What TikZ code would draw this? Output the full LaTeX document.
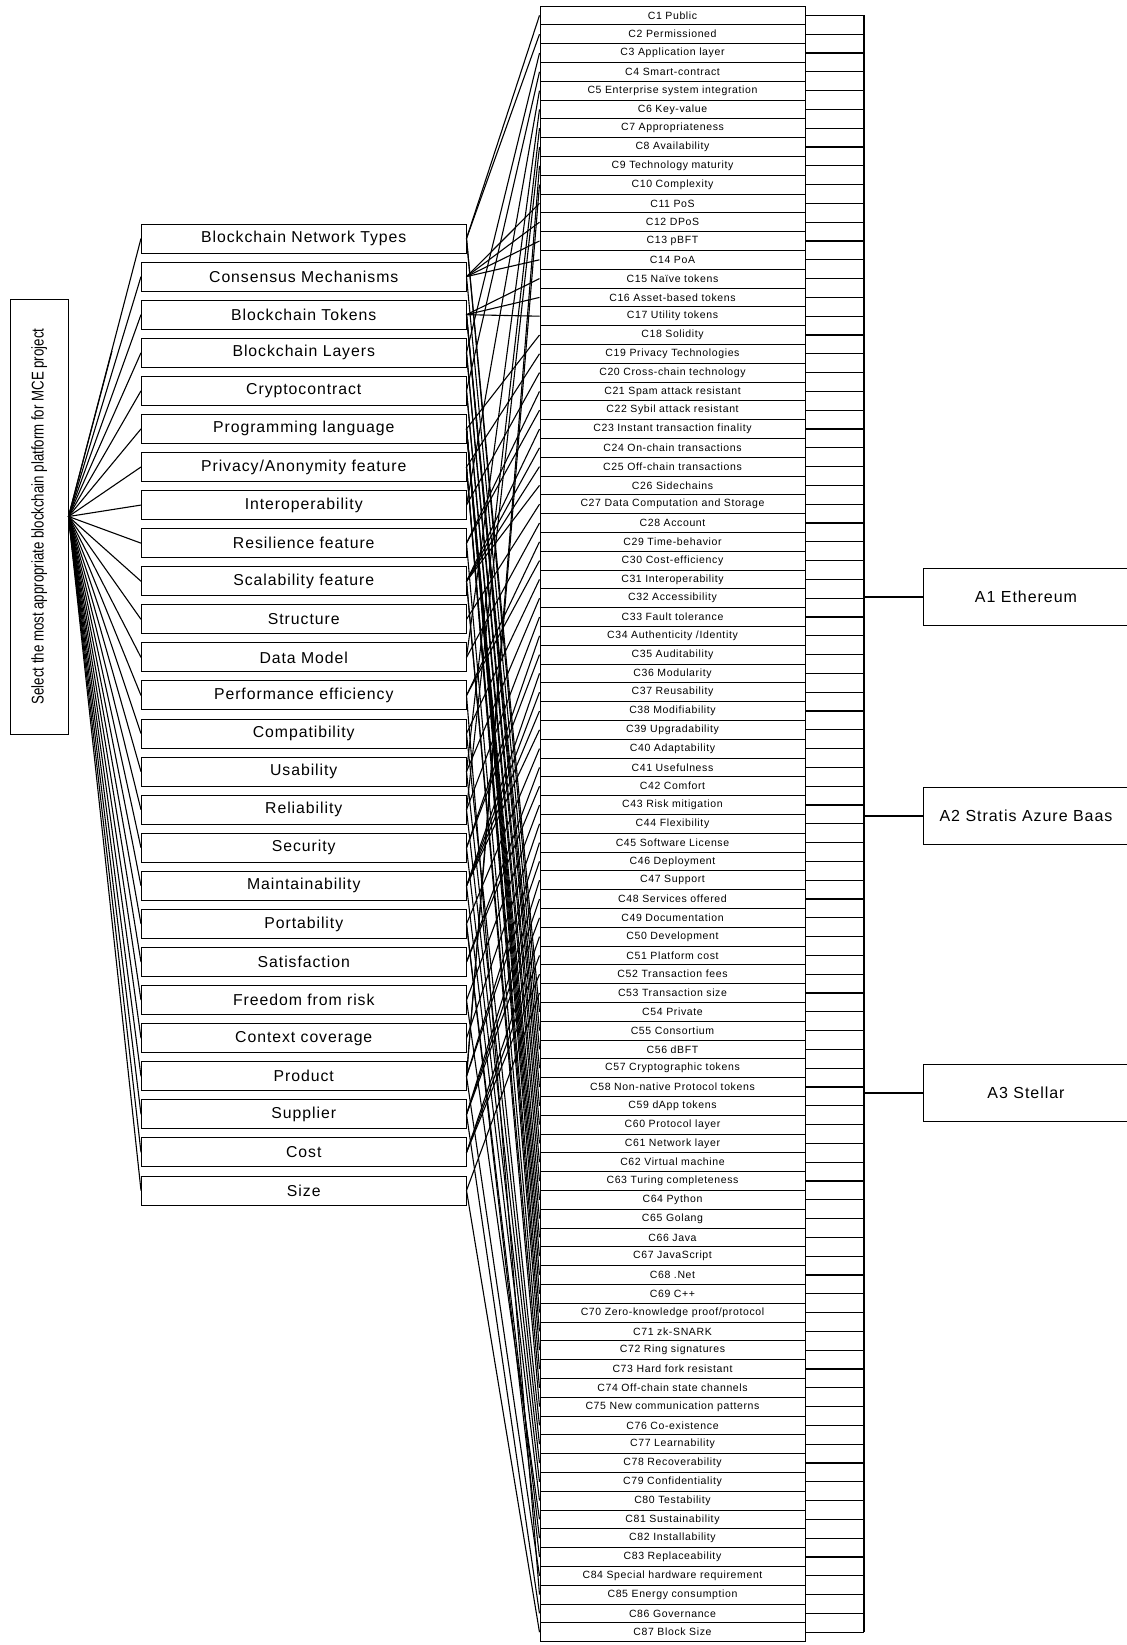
\documentclass[tikz,border=0pt]{standalone}
\usepackage{fontspec}
\setmainfont{Liberation Sans}
\newfontfamily\boxfont[LetterSpace=6]{Liberation Sans}
\usetikzlibrary{positioning}
\tikzset{
  goalbox/.style={draw,minimum width=28.75pt,minimum height=217.5pt,inner sep=0pt,
    font=\fontsize{8.5}{10}\selectfont},
  critbox/.style={draw,minimum width=162.25pt,minimum height=14.5pt,inner sep=0pt,
    font=\fontsize{7.9}{9}\boxfont},
  cbox/.style={draw,minimum width=132.5pt,minimum height=9.4pt,inner sep=0pt,
    font=\fontsize{5.25}{6}\boxfont},
  altbox/.style={draw,anchor=west,minimum width=102.8pt,minimum height=28.5pt,inner sep=0pt,
    font=\fontsize{8}{9}\boxfont},
  link/.style={draw,line width=0.55pt}
}

\begin{document}
\begin{tikzpicture}[x=0.5pt,y=-0.5pt,line width=0.5pt]
  \useasboundingbox (0,0) rectangle (1126,1645);

  % Goal
  \node[goalbox] at (39.25,516.5) (goal)
    {\rotatebox{90}{\scalebox{0.78}[1]{Select the most appropriate blockchain platform for MCE project}}};
  \coordinate (stub) at (112,351);
  \draw[link] (goal.east) -- (stub);

  % Criteria
  \foreach \lbl [count=\k] in {Blockchain Network Types, Consensus Mechanisms,
    Blockchain Tokens, Blockchain Layers, Cryptocontract, Programming language,
    Privacy/Anonymity feature, Interoperability, Resilience feature,
    Scalability feature, Structure, Data Model, Performance efficiency,
    Compatibility, Usability, Reliability, Security, Maintainability,
    Portability, Satisfaction, Freedom from risk, Context coverage, Product,
    Supplier, Cost, Size}
  {
    \node[critbox] at (303.75,{238.5+38.08*(\k-1)}) (cr\k) {\lbl};
    \draw[link] (goal.east) -- (cr\k.west);
  }

  % Sub-criteria (label/criterion)
  \coordinate (bus) at (864,0);
  \foreach \lbl/\k [count=\i] in {Public/1, Permissioned/1, Application layer/4,
    Smart-contract/5, Enterprise system integration/8, Key-value/12,
    Appropriateness/15, Availability/16, Technology maturity/23, Complexity/23,
    PoS/2, DPoS/2, pBFT/2, PoA/2, Naïve tokens/3, Asset-based tokens/3,
    Utility tokens/3, Solidity/6, Privacy Technologies/7,
    Cross-chain technology/8, Spam attack resistant/9, Sybil attack resistant/9,
    Instant transaction finality/10, On-chain transactions/10,
    Off-chain transactions/10, Sidechains/10, Data Computation and Storage/11,
    Account/12, Time-behavior/13, Cost-efficiency/13, Interoperability/14,
    Accessibility/15, Fault tolerance/16, {Authenticity /Identity}/17,
    Auditability/17, Modularity/18, Reusability/18, Modifiability/18,
    Upgradability/18, Adaptability/19, Usefulness/20, Comfort/20,
    Risk mitigation/21, Flexibility/22, Software License/23, Deployment/23,
    Support/24, Services offered/24, Documentation/24, Development/25,
    Platform cost/25, Transaction fees/25, Transaction size/26, Private/1,
    Consortium/1, dBFT/2, Cryptographic tokens/3, Non-native Protocol tokens/3,
    dApp tokens/3, Protocol layer/4, Network layer/4, Virtual machine/5,
    Turing completeness/5, Python/6, Golang/6, Java/6, JavaScript/6, .Net/6,
    C++/6, {Zero-knowledge proof/protocol}/7, zk-SNARK/7, Ring signatures/7,
    Hard fork resistant/9, Off-chain state channels/10,
    New communication patterns/10, Co-existence/14, Learnability/15,
    Recoverability/16, Confidentiality/17, Testability/18, Sustainability/21,
    Installability/19, Replaceability/19, Special hardware requirement/23,
    Energy consumption/13, Governance/24, Block Size/26}
  {
    \node[cbox] at (672.5,{15.4+18.8*(\i-1)}) (c\i) {C\i{} \lbl};
    \draw[link] (cr\k.east) -- (c\i.west);
    \draw[link] (c\i.east) -- (c\i.east -| bus);
  }
  \draw[link] (c1.east -| bus) -- (c87.east -| bus);

  % Alternatives
  \node[altbox] at (922.7,597) (a1) {A1 Ethereum};
  \node[altbox] at (922.7,816) (a2) {A2 Stratis Azure Baas};
  \node[altbox] at (922.7,1093) (a3) {A3 Stellar};
  \foreach \a in {a1,a2,a3}
    \draw[link] (\a.west -| bus) -- (\a.west);
\end{tikzpicture}
\end{document}
